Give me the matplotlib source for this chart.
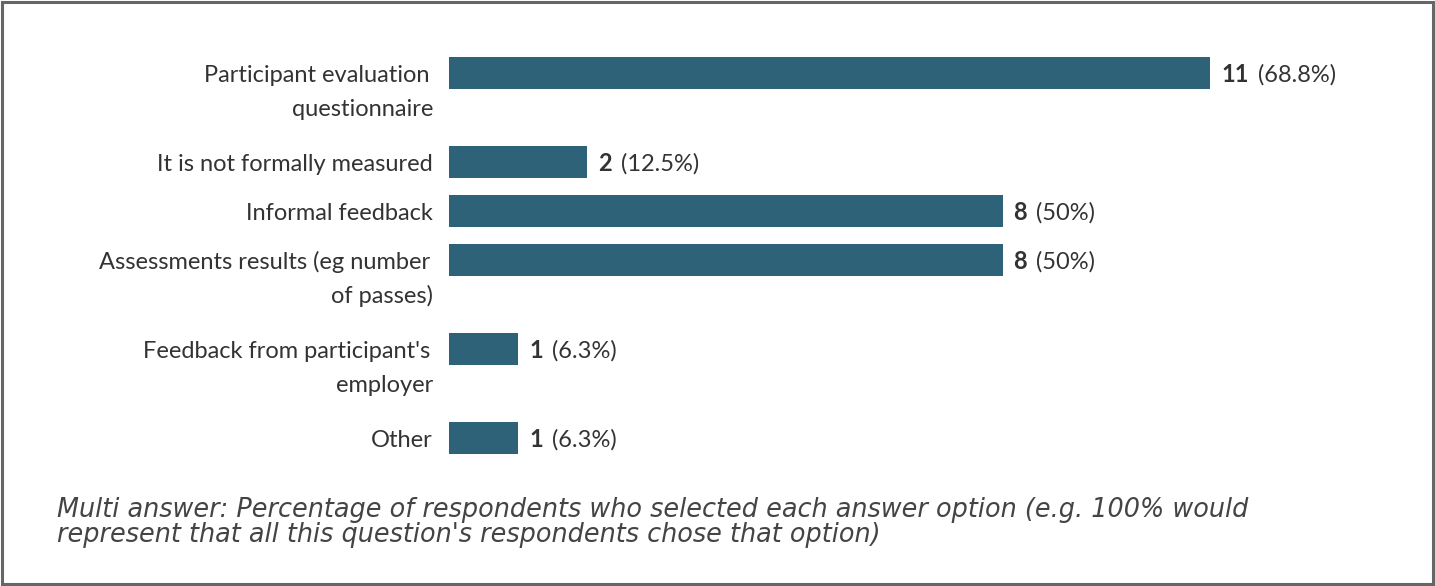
import matplotlib
matplotlib.use("Agg")
import matplotlib.pyplot as plt
from matplotlib.patches import Rectangle

categories = [
    "Participant evaluation\nquestionnaire",
    "It is not formally measured",
    "Informal feedback",
    "Assessments results (eg number\nof passes)",
    "Feedback from participant's\nemployer",
    "Other",
]
counts = [11, 2, 8, 8, 1, 1]
percent_labels = ["(68.8%)", "(12.5%)", "(50%)", "(50%)", "(6.3%)", "(6.3%)"]
footer_lines = [
    "Multi answer: Percentage of respondents who selected each answer option (e.g. 100% would",
    "represent that all this question's respondents chose that option)",
]

W, H, DPI = 1435, 586, 100
BAR_COLOR = "#2e6279"
TEXT_COLOR = "#333333"
PX_PER_UNIT = 69.2
X0 = 449
FS = 17

fig = plt.figure(figsize=(W / DPI, H / DPI), dpi=DPI)
ax = fig.add_axes([0, 0, 1, 1])
ax.set_xlim(-X0 / PX_PER_UNIT, (W - X0) / PX_PER_UNIT)
ax.set_ylim(H, 0)
ax.axis("off")

# row centres derived from the number of label lines
centres = []
y = 73
for lab in categories:
    centres.append(y)
    y += 49 + 40 * (len(lab.split("\n")) - 1)

ax.barh(centres, counts, height=32, left=0, color=BAR_COLOR)

renderer = fig.canvas.get_renderer()
for c, lab, n, p in zip(centres, categories, counts, percent_labels):
    lines = lab.split("\n")
    for i, line in enumerate(lines):
        shift = 3 if i < len(lines) - 1 else 0  # wrapped lines keep a trailing space
        ax.text(-(16 + shift) / PX_PER_UNIT, c + 9 + i * 34, line, ha="right", va="baseline",
                fontsize=FS, family="Lato", color=TEXT_COLOR)
    xs = n + 11 / PX_PER_UNIT
    t = ax.text(xs, c + 9, str(n), ha="left", va="baseline", fontsize=FS,
                family="Lato", fontweight="bold", color=TEXT_COLOR)
    bb = t.get_window_extent(renderer=renderer)
    ax.text(xs + (bb.width + 9) / PX_PER_UNIT, c + 9, p, ha="left", va="baseline",
            fontsize=FS, family="Lato", color=TEXT_COLOR)

for i, line in enumerate(footer_lines):
    fig.text(57 / W, 1 - (517 + 25 * i) / H, line, ha="left", va="baseline",
             fontsize=18.4, family="DejaVu Sans", style="italic", color="#444444")

fig.patches.append(Rectangle((2 / W, 2 / H), (W - 4) / W, (H - 4) / H,
                             transform=fig.transFigure, fill=False,
                             edgecolor="#666666", linewidth=2.2))

fig.savefig("out.png", dpi=DPI)
